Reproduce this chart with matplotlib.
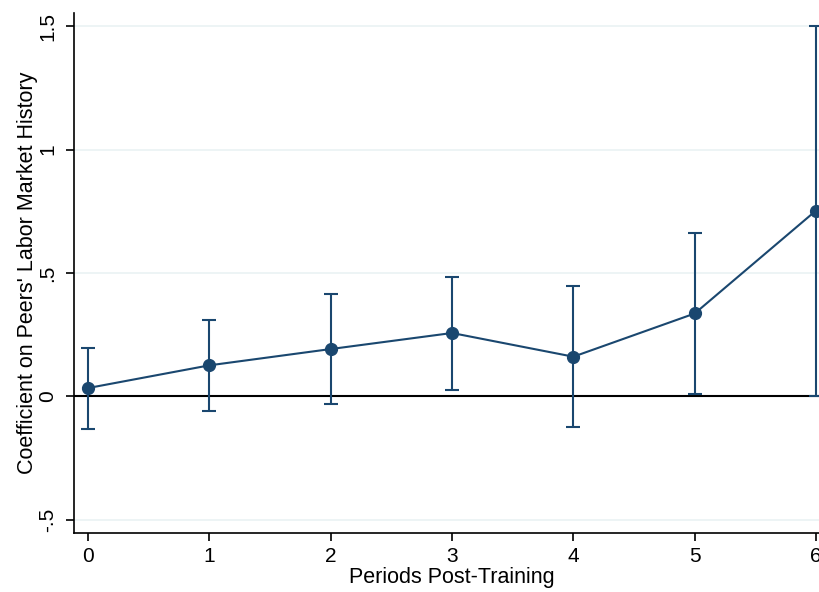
import matplotlib
matplotlib.use("Agg")
import matplotlib.pyplot as plt

periods = [0, 1, 2, 3, 4, 5, 6]
coef = [0.034, 0.126, 0.192, 0.257, 0.161, 0.336, 0.753]
ci_low = [-0.130, -0.057, -0.032, 0.028, -0.122, 0.010, 0.002]
ci_high = [0.196, 0.311, 0.416, 0.485, 0.446, 0.660, 1.500]
yticks = [-0.5, 0, 0.5, 1, 1.5]
ytick_labels = ["-.5", "0", ".5", "1", "1.5"]

plt.rcParams['font.family'] = ['Liberation Sans', 'DejaVu Sans']
navy = "#1a476f"

fig = plt.figure(figsize=(8.19, 5.92), dpi=100)
ax = fig.add_axes([74/819, 59/592, 756/819, 520/592])

for y in yticks:
    ax.axhline(y, color="#eaf2f3", lw=1.2, zorder=0)
ax.axhline(0, color="black", lw=1.5, zorder=1)

lo_err = [c - l for c, l in zip(coef, ci_low)]
hi_err = [h - c for c, h in zip(coef, ci_high)]
ax.errorbar(periods, coef, yerr=[lo_err, hi_err], fmt="none", ecolor=navy,
            elinewidth=1.5, capsize=5, capthick=1.5, zorder=2)
ax.plot(periods, coef, color=navy, lw=1.5, marker="o", markersize=8.5, zorder=3)

ax.set_xlim(-0.115, 6.115)
ax.set_ylim(-0.553, 1.553)
ax.set_xticks(periods)
ax.set_xticklabels([str(p) for p in periods], fontsize=15)
ax.set_yticks(yticks)
ax.set_yticklabels(ytick_labels, fontsize=15, rotation=90, va="center")
ax.tick_params(axis="both", direction="out", length=6, width=1.2, colors="black", pad=4)
ax.tick_params(axis="y", pad=6)
ax.set_xlabel("Periods Post-Training", fontsize=15.5, labelpad=1)
ax.set_ylabel("Coefficient on Peers' Labor Market History", fontsize=15.5, labelpad=0)

for s in ["top", "right"]:
    ax.spines[s].set_visible(False)
for s in ["left", "bottom"]:
    ax.spines[s].set_linewidth(1.2)

fig.savefig("out.png", dpi=100)
